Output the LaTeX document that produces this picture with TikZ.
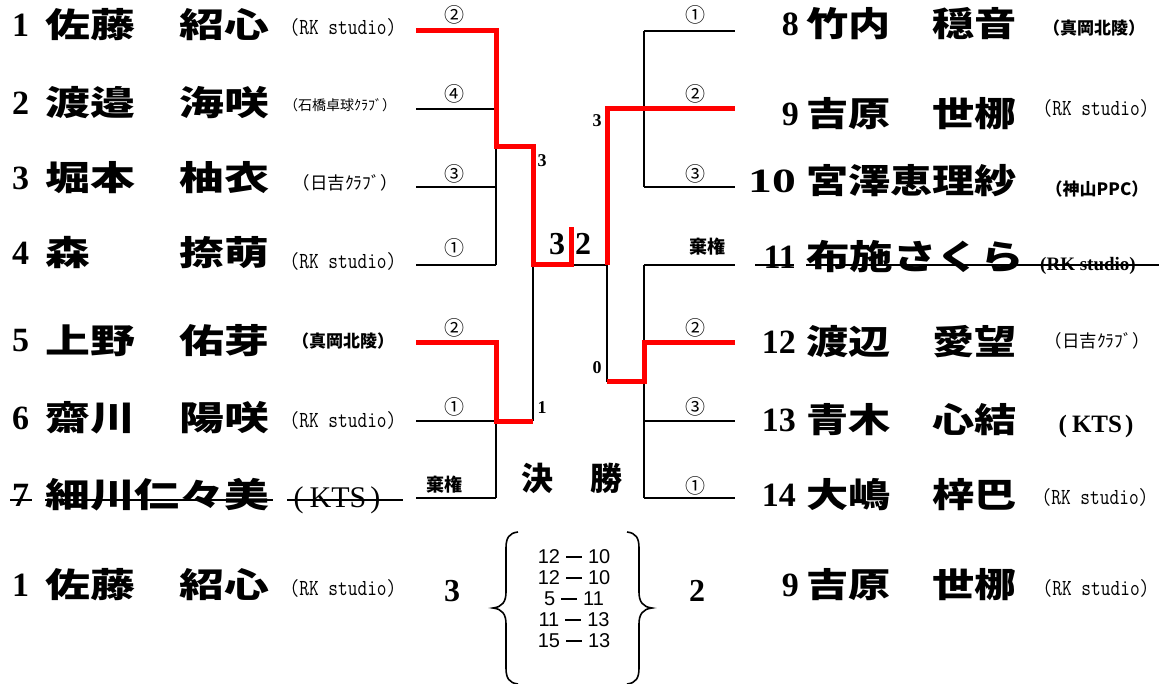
\documentclass[tikz,border=0pt]{standalone}
\usepackage{fontspec}
\usepackage{graphicx}
\setmainfont{Liberation Serif}
\newfontfamily\jpf{Noto Sans CJK JP}
\newfontfamily\lsans{Liberation Sans}
\newcommand\jpname[2]{\scalebox{#1}[1]{\fontsize{34}{34}\selectfont\jpf\bfseries #2}}
\newcommand\rkmono{\scalebox{0.82}[1]{\fontsize{23}{23}\selectfont\ttfamily (RK studio)}}
\newcommand\orgb[2]{{\fontsize{#1}{#1}\selectfont\jpf\bfseries #2}}
\newcommand\orgr[2]{{\fontsize{#1}{#1}\selectfont\jpf #2}}
\newcommand\sdash{\hspace{6pt}\rule[6pt]{16pt}{1.5pt}\hspace{6pt}}
\tikzset{
  num/.style={inner sep=0pt, font=\fontsize{34}{34}\selectfont\bfseries},
  numL/.style={num, anchor=west},
  numR/.style={num, anchor=east},
  nmL/.style={inner sep=0pt, anchor=west},
  org/.style={inner sep=0pt},
  circ/.style={inner sep=0pt, font=\fontsize{20}{20}\selectfont\jpf},
  kiken/.style={inner sep=0pt, font=\fontsize{18}{18}\selectfont\jpf\bfseries},
  sc/.style={inner sep=0pt, font=\fontsize{18}{18}\selectfont\bfseries},
  big/.style={inner sep=0pt, font=\fontsize{32}{32}\selectfont\bfseries},
  blk/.style={line width=2pt, black},
  win/.style={line width=5pt, red, line join=miter},
  strike/.style={line width=1.8pt, black},
  bracebar/.style={line width=1.6pt, black},
}
\begin{document}
\begin{tikzpicture}[x=1pt,y=-1pt]
\useasboundingbox[fill=white] (0,0) rectangle (1159,684);

% ---------- left players ----------
\node[numL] (n1) at (12,25) {1};
\node[nmL] (name1) at (45,25) {\jpname{1.32}{佐藤　紹心}};
\node[org] (o1) at (343,27) {\rkmono};

\node[numL] (n2) at (12,103) {2};
\node[nmL] (name2) at (45,103) {\jpname{1.32}{渡邉　海咲}};
\node[org] (o2) at (340,105) {\orgr{14}{（石橋卓球ｸﾗﾌﾞ）}};

\node[numL] (n3) at (12,178) {3};
\node[nmL] (name3) at (45,178) {\jpname{1.32}{堀本　柚衣}};
\node[org] (o3) at (345,183) {\orgr{17.5}{（日吉ｸﾗﾌﾞ）}};

\node[numL] (n4) at (12,253) {4};
\node[nmL] (name4) at (45,253) {\jpname{1.32}{森　　捺萌}};
\node[org] (o4) at (343,261) {\rkmono};

\node[numL] (n5) at (12,341) {5};
\node[nmL] (name5) at (45,341) {\jpname{1.32}{上野　佑芽}};
\node[org] (o5) at (343,341) {\orgb{17}{（真岡北陵）}};

\node[numL] (n6) at (12,418) {6};
\node[nmL] (name6) at (45,418) {\jpname{1.32}{齋川　陽咲}};
\node[org] (o6) at (343,420) {\rkmono};

\node[numL] (n7) at (12,495) {7};
\node[nmL] (name7) at (45,495) {\jpname{1.32}{細川仁々美}};
\node[org] (o7) at (337,500) {\fontsize{30}{30}\selectfont(\hspace{6pt}KTS\hspace{4pt})};

% ---------- right players ----------
\node[numR] (n8) at (799,24) {8};
\node[nmL] (name8) at (806,24) {\jpname{1.24}{竹内　穏音}};
\node[org] (o8) at (1094,28) {\orgb{17}{（真岡北陵）}};

\node[numR] (n9) at (799,114) {9};
\node[nmL] (name9) at (806,114) {\jpname{1.24}{吉原　世梛}};
\node[org] (o9) at (1096,108) {\rkmono};

\node[numR] (n10) at (796,181) {\scalebox{1.4}[1]{10}};
\node[nmL] (name10) at (806,181) {\jpname{1.24}{宮澤恵理紗}};
\node[org] (o10) at (1097,189) {\orgb{17}{（神山PPC）}};

\node[numR] (n11) at (796,257) {11};
\node[nmL] (name11) at (806,257) {\jpname{1.28}{布施さくら}};
\node[org] (o11) at (1088,266) {\fontsize{19}{19}\selectfont\bfseries (RK studio)};

\node[numR] (n12) at (796,342) {12};
\node[nmL] (name12) at (806,342) {\jpname{1.24}{渡辺　愛望}};
\node[org] (o12) at (1097,341) {\orgr{17.5}{（日吉ｸﾗﾌﾞ）}};

\node[numR] (n13) at (796,420) {13};
\node[nmL] (name13) at (806,420) {\jpname{1.24}{青木　心結}};
\node[org] (o13) at (1096,426) {\fontsize{25}{25}\selectfont\bfseries (\hspace{5pt}KTS\hspace{3pt})};

\node[numR] (n14) at (796,495) {14};
\node[nmL] (name14) at (806,495) {\jpname{1.24}{大嶋　梓巴}};
\node[org] (o14) at (1095,497) {\rkmono};

% ---------- strike-through (withdrawn) ----------
\coordinate (k7a) at (10,500);  \coordinate (k7b) at (32,500);
\coordinate (k7c) at (45,500);  \coordinate (k7d) at (273,500);
\coordinate (k7e) at (287,500); \coordinate (k7f) at (403,500);
\draw[strike] (k7a) -- (k7b);
\draw[strike] (k7c) -- (k7d);
\draw[strike] (k7e) -- (k7f);
\coordinate (k11a) at (755,265); \coordinate (k11b) at (794,265);
\coordinate (k11c) at (806,265); \coordinate (k11d) at (1159,265);
\draw[strike] (k11a) -- (k11b);
\draw[strike] (k11c) -- (k11d);

% ---------- bracket coordinates ----------
\coordinate (p1) at (416,31);  \coordinate (q1) at (496,31);
\coordinate (p2) at (416,109); \coordinate (q2) at (496,109);
\coordinate (p3) at (416,187); \coordinate (q3) at (496,187);
\coordinate (p4) at (416,265); \coordinate (q4) at (496,265);
\coordinate (m1) at (496,147); \coordinate (r1) at (533,147);
\coordinate (p5) at (416,343); \coordinate (q5) at (496,343);
\coordinate (p6) at (416,421); \coordinate (q6) at (496,421);
\coordinate (p7) at (416,498); \coordinate (q7) at (496,498);
\coordinate (r2) at (533,421);
\coordinate (c1) at (533,265); \coordinate (c2) at (571,265);
\coordinate (c3) at (607,265); \coordinate (tk) at (571,227);
\coordinate (s1) at (607,109); \coordinate (s2) at (607,382);
\coordinate (u8) at (644,31);   \coordinate (v8) at (735,31);
\coordinate (u9) at (644,109);  \coordinate (v9) at (735,109);
\coordinate (u10) at (644,187); \coordinate (v10) at (735,187);
\coordinate (u11) at (644,265); \coordinate (v11) at (735,265);
\coordinate (u12) at (644,343); \coordinate (v12) at (735,343);
\coordinate (u13) at (644,421); \coordinate (v13) at (735,421);
\coordinate (u14) at (644,498); \coordinate (v14) at (735,498);
\coordinate (w) at (644,382);

% black lines
\draw[blk] (p1) -- (q1);
\draw[blk] (p2) -- (q2);
\draw[blk] (p3) -- (q3);
\draw[blk] (p4) -- (q4);
\draw[blk] (q1) -- (q4);
\draw[blk] (p5) -- (q5);
\draw[blk] (p6) -- (q6);
\draw[blk] (p7) -- (q7);
\draw[blk] (q5) -- (q7);
\draw[blk] (r2) -- (c1);
\draw[blk] (c1) -- (c3);
\draw[blk] (c3) -- (s2);
\draw[blk] (u8) -- (v8);
\draw[blk] (u9) -- (v9);
\draw[blk] (u10) -- (v10);
\draw[blk] (u8) -- (u10);
\draw[blk] (u11) -- (v11);
\draw[blk] (u12) -- (v12);
\draw[blk] (u13) -- (v13);
\draw[blk] (u14) -- (v14);
\draw[blk] (u11) -- (u14);

% red winner paths
\draw[win] (p1) -- (q1) -- (m1) -- (r1) -- (c1) -- (c2) -- (tk);
\draw[win] (p5) -- (q5) -- (q6) -- (r2);
\draw[win] (c3) -- (s1) -- (v9);
\draw[win] (v12) -- (u12) -- (w) -- (s2);

% circled results
\node[circ] (g1) at (454,15) {②};
\node[circ] (g2) at (454,94) {④};
\node[circ] (g3) at (454,174) {③};
\node[circ] (g4) at (454,248) {①};
\node[circ] (g5) at (454,328) {②};
\node[circ] (g6) at (454,407) {①};
\node[kiken] (g7) at (444,485) {棄権};
\node[circ] (g8) at (695,15) {①};
\node[circ] (g9) at (695,94) {②};
\node[circ] (g10) at (695,174) {③};
\node[kiken] (g11) at (707,247) {棄権};
\node[circ] (g12) at (695,328) {②};
\node[circ] (g13) at (695,407) {③};
\node[circ] (g14) at (695,486) {①};

% scores
\node[sc] (sa) at (542,161) {3};
\node[sc] (sb) at (542,408) {1};
\node[sc] (sc1) at (597,121) {3};
\node[sc] (sd) at (597,368) {0};
\node[big] (fa) at (557,244) {3};
\node[big] (fb) at (583,244) {2};

\node[inner sep=0pt, font=\fontsize{32}{32}\selectfont\jpf\bfseries] (ke) at (537,478) {決};
\node[inner sep=0pt, font=\fontsize{32}{32}\selectfont\jpf\bfseries] (sh) at (606,478) {勝};

% ---------- final result ----------
\node[numL] (fn1) at (12,585) {1};
\node[nmL] (fname1) at (45,585) {\jpname{1.32}{佐藤　紹心}};
\node[org] (fo1) at (343,588) {\rkmono};
\node[big] (fs1) at (452,591) {3};
\node[big] (fs2) at (697,591) {2};
\node[numR] (fn9) at (799,585) {9};
\node[nmL] (fname9) at (806,585) {\jpname{1.24}{吉原　世梛}};
\node[org] (fo9) at (1096,588) {\rkmono};

\node[inner sep=0pt, align=center, font=\fontsize{20}{21}\selectfont\lsans] (games) at (574,599)
  {12\sdash10\\12\sdash10\\5\sdash11\\11\sdash13\\15\sdash13};

\draw[bracebar] (518,532) .. controls (509,533) and (506,538) .. (506,548) -- (506,592)
  .. controls (506,602) and (502,607) .. (493,608)
  .. controls (502,609) and (506,614) .. (506,624) -- (506,668)
  .. controls (506,678) and (509,683) .. (518,684);
\draw[bracebar] (627,532) .. controls (636,533) and (639,538) .. (639,548) -- (639,592)
  .. controls (639,602) and (643,607) .. (652,608)
  .. controls (643,609) and (639,614) .. (639,624) -- (639,668)
  .. controls (639,678) and (636,683) .. (627,684);
\end{tikzpicture}
\end{document}
